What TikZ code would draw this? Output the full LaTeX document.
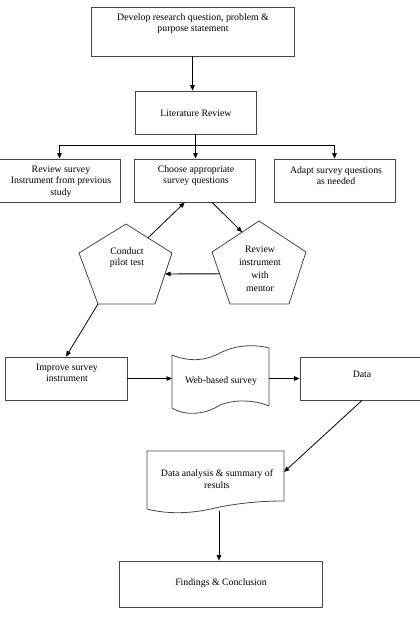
\documentclass[tikz,border=0pt]{standalone}
\usepackage{fontspec}
\setmainfont{Liberation Serif}
\usetikzlibrary{arrows.meta,calc}
\begin{document}
\begin{tikzpicture}[x=1pt,y=-1pt,
  box/.style={draw=black!72, line width=0.8pt, inner sep=0pt},
  shp/.style={draw=black!72, line width=0.8pt},
  lbl/.style={font=\fontsize{9.8}{11.6}\selectfont, align=center, inner sep=0pt},
  arr/.style={draw=black, line width=0.8pt, -{Triangle[length=5.5pt,width=4.5pt]}},
  ln/.style={draw=black, line width=0.8pt}]
\useasboundingbox (0,0) rectangle (420,630);
\clip (0,0) rectangle (420,630);

% rectangular boxes
\node[box, minimum width=203pt, minimum height=49pt] (dev) at (192.5,31.5) {};
\node[box, minimum width=121pt, minimum height=43pt] (lit) at (195.5,112.5) {};
\node[box, minimum width=121pt, minimum height=43pt] (A) at (59.5,180.5) {};
\node[box, minimum width=121pt, minimum height=43pt] (B) at (194.5,180.5) {};
\node[box, minimum width=121pt, minimum height=43pt] (C) at (334.5,180.5) {};
\node[box, minimum width=122pt, minimum height=43pt] (imp) at (66,378.5) {};
\node[box, minimum width=126pt, minimum height=43pt] (data) at (363,378.5) {};
\node[box, minimum width=203pt, minimum height=46pt] (find) at (220.5,584) {};

% pentagons
\coordinate (lpT) at (126,224); \coordinate (lpL) at (79,253); \coordinate (lpR) at (172,253);
\coordinate (lpBR) at (155,304); \coordinate (lpBL) at (98,304);
\draw[shp] (lpT) -- (lpR) -- (lpBR) -- (lpBL) -- (lpL) -- cycle;
\coordinate (rpT) at (259,221); \coordinate (rpL) at (212,252); \coordinate (rpR) at (306,252);
\coordinate (rpBR) at (289,304); \coordinate (rpBL) at (230,304);
\draw[shp] (rpT) -- (rpR) -- (rpBR) -- (rpBL) -- (rpL) -- cycle;

% punched tape (web-based survey)
\coordinate (webL) at (172,380); \coordinate (webR) at (269,380);
\draw[shp] (172,355) .. controls (190,362) and (205,361) .. (220,353)
  .. controls (235,345) and (255,344) .. (269,348)
  -- (269,406) .. controls (255,400) and (235,399) .. (220,405)
  .. controls (205,415) and (185,416) .. (172,408) -- cycle;

% document shape (data analysis)
\draw[shp] (147,509) -- (147,451) -- (284,451) -- (284,501)
  .. controls (262,501) and (238,503) .. (215,508)
  .. controls (195,513) and (170,515) .. (147,509);
\coordinate (daR) at (284,472);
\coordinate (daB) at (219,511);

% texts
\node[lbl] (devt) at (193,23.5) {Develop research question, problem \&\\purpose statement};
\node[lbl] (litt) at (196,113) {Literature Review};
\node[lbl] (At) at (61,181.5) {Review survey\\Instrument from previous\\study};
\node[lbl] (Bt) at (196,175.5) {Choose appropriate\\survey questions};
\node[lbl] (Ct) at (336,175.5) {Adapt survey questions\\as needed};
\node[lbl] (lpt) at (127,257.5) {Conduct\\pilot test};
\node[lbl, font=\fontsize{9.8}{13}\selectfont] (rpt) at (260,268.5) {Review\\instrument\\with\\mentor};
\node[lbl] (impt) at (67,373) {Improve survey\\instrument};
\node[lbl] (webt) at (221,381) {Web-based survey};
\node[lbl] (datat) at (362,374) {Data};
\node[lbl] (dat) at (217,479) {Data analysis \& summary of\\results};
\node[lbl] (findt) at (221,583) {Findings \& Conclusion};

% connectors
\draw[arr] (dev.south) -- (dev.south |- lit.north);
\draw[ln] (lit.south) -- (lit.south |- 0,145) coordinate (j);
\draw[ln] (j -| A.north) -- (j -| C.north);
\draw[arr] (j -| A.north) -- (A.north);
\draw[arr] (j) -- (j |- B.north);
\draw[arr] (j -| C.north) -- (C.north);

\draw[arr] ($(lpT)!0.478!(lpR)$) -- ($(B.south west)!0.42!(B.south east)$);
\draw[arr] ($(B.south west)!0.645!(B.south east)$) -- ($(rpL)!0.64!(rpT)$);
\draw[arr] ($(rpL)!0.42!(rpBL)$) -- ($(lpR)!0.41!(lpBR)$);
\draw[arr] (lpBL) -- (imp.north);
\draw[arr] (imp.east) -- (webL |- imp.east);
\draw[arr] (webR |- data.west) -- (data.west);
\draw[arr] ($(data.south)+(-1,0)$) -- (daR);
\draw[arr] (daB) -- (daB |- find.north);
\end{tikzpicture}
\end{document}
